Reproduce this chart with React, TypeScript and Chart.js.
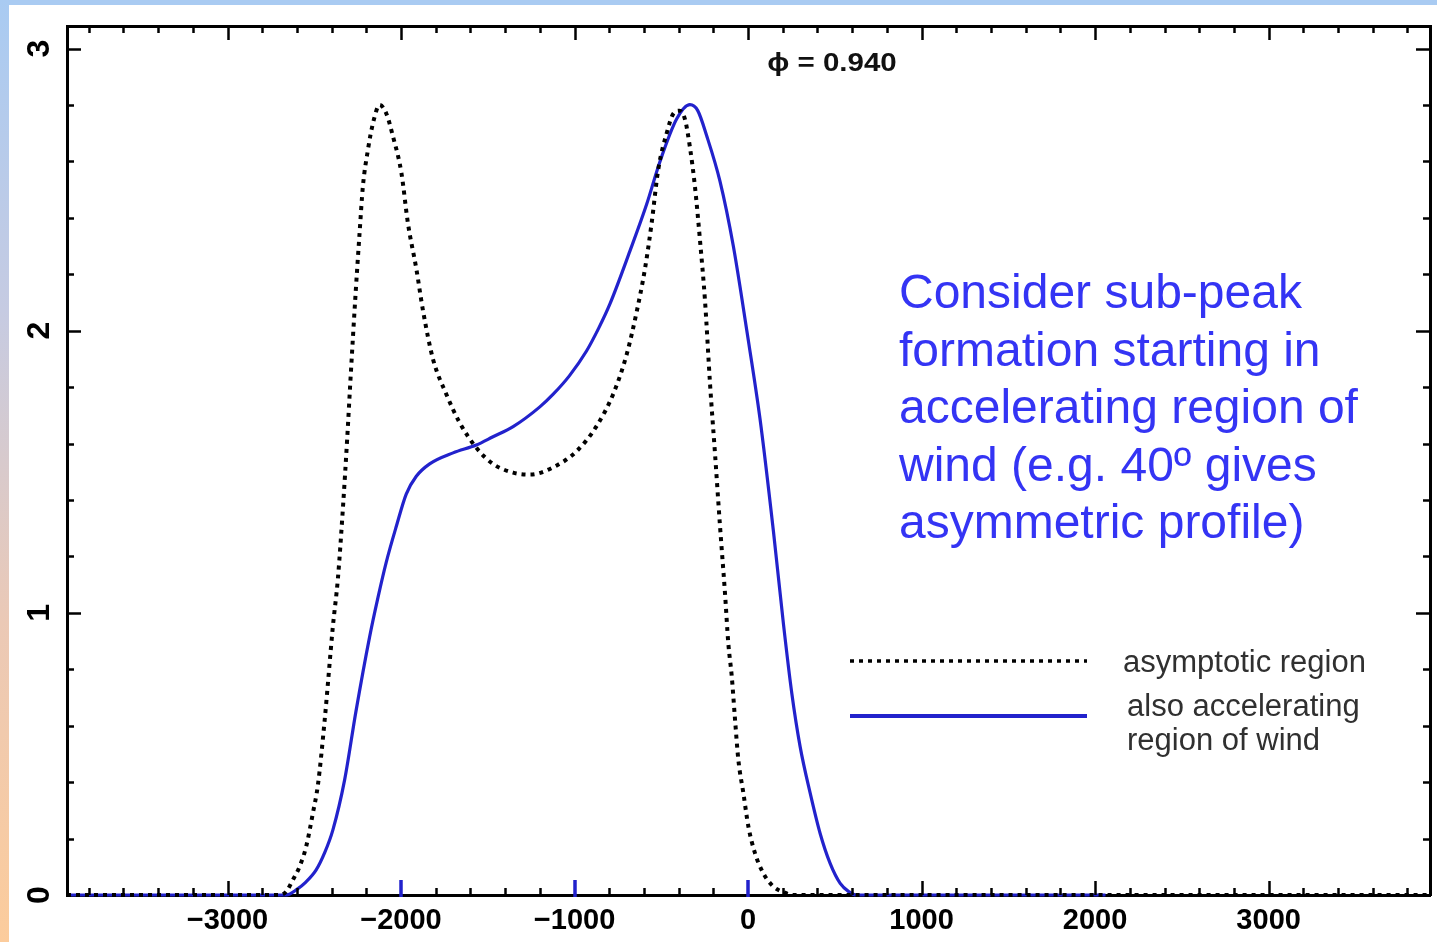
import React, { useEffect, useRef } from 'react';
import { Chart, registerables } from 'chart.js';

Chart.register(...registerables);

// ---------------- data ----------------
const asymptoticV = [
  -3925, -2700, -2662, -2624, -2585, -2547, -2508, -2479, -2440, -2393, -2364, -2335, -2310, -2291,
  -2262, -2239, -2220, -2191, -2160, -2123, -2085, -2047, -1998, -1960, -1912, -1873, -1816, -1739,
  -1662, -1566, -1470, -1354, -1258, -1123, -988, -873, -777, -700, -642, -594, -556, -518, -469,
  -430, -395, -364, -335, -306, -277, -248, -219, -190, -162, -133, -114, -94, -75, -56, -27, 2, 40,
  88, 146, 204, 260, 3930,
];
const asymptoticFlux = [
  0, 0, 0.012, 0.053, 0.1, 0.171, 0.29, 0.39, 0.62, 0.95, 1.12, 1.37, 1.62, 1.83,
  2.13, 2.345, 2.51, 2.64, 2.74, 2.8, 2.77, 2.69, 2.56, 2.38, 2.22, 2.07, 1.9, 1.775,
  1.674, 1.585, 1.528, 1.497, 1.49, 1.516, 1.573, 1.662, 1.776, 1.915, 2.067, 2.22, 2.38, 2.57, 2.7,
  2.77, 2.78, 2.75, 2.65, 2.51, 2.32, 2.105, 1.81, 1.56, 1.31, 1.07, 0.893, 0.775, 0.621, 0.479, 0.361, 0.242, 0.148,
  0.077, 0.03, 0.01, 0, 0,
];
const acceleratingV = [
  -3925, -2680, -2643, -2604, -2550, -2489, -2440, -2393, -2325, -2260, -2181, -2133, -2085, -2027,
  -1970, -1912, -1835, -1700, -1566, -1470, -1354, -1200, -1123, -1030, -931, -860, -796, -681, -585, -508,
  -411, -335, -290, -238, -162, -85, -8, 69, 146, 204, 252, 300, 358, 415, 473, 531, 580, 625, 2060,
];
const acceleratingFlux = [
  0, 0, 0.003, 0.018, 0.045, 0.089, 0.15, 0.23, 0.408, 0.65, 0.915, 1.054, 1.18, 1.307,
  1.421, 1.484, 1.528, 1.567, 1.595, 1.624, 1.66, 1.73, 1.775, 1.84, 1.928, 2.01, 2.095, 2.282, 2.447, 2.599,
  2.751, 2.801, 2.78, 2.69, 2.53, 2.3, 2.003, 1.687, 1.29, 0.96, 0.715, 0.526, 0.361, 0.219, 0.112, 0.041, 0.012, 0, 0,
];
const seriesNames = ['asymptotic region', 'also accelerating region of wind'];
const legendLines = [['asymptotic region'], ['also accelerating', 'region of wind']];
const highlightedXTicks = [-2000, -1000, 0];
const phaseText = 'ϕ = 0.940';
const noteLines = [
  'Consider sub-peak',
  'formation starting in',
  'accelerating region of',
  'wind (e.g. 40º gives',
  'asymmetric profile)',
];
const xMin = -3925;
const xMax = 3930;
const yMin = 0;
const yMax = 3.08;
const xMajorStep = 1000;
const xMinorStep = 200;
const yMajorStep = 1;
const yMinorStep = 0.2;

// ---------------- styles ----------------
const FONT = '"Liberation Sans", Arial, Helvetica, sans-serif';
const BLUE = '#2222cc';
const NOTE_BLUE = '#3434f4';

const fixBox = (w: number | null, h: number | null) => (scale: any) => {
  if (w !== null) scale.width = w;
  if (h !== null) scale.height = h;
  scale.paddingTop = 0;
  scale.paddingBottom = 0;
  scale.paddingLeft = 0;
  scale.paddingRight = 0;
};

const overlayPlugin = {
  id: 'overlay',
  afterDatasetsDraw(chart: any) {
    const { ctx, chartArea: a, scales } = chart;
    const xs = scales.x;
    const ys = scales.y;
    ctx.save();
    ctx.strokeStyle = '#000';
    ctx.lineWidth = 2.5;
    ctx.lineCap = 'butt';
    const nx0 = Math.ceil(xMin / xMinorStep);
    const nx1 = Math.floor(xMax / xMinorStep);
    for (let i = nx0; i <= nx1; i++) {
      const v = i * xMinorStep;
      const px = Math.round(xs.getPixelForValue(v)) + 0.5;
      const major = v % xMajorStep === 0;
      const len = major ? 14 : 7;
      ctx.beginPath();
      ctx.moveTo(px, a.top);
      ctx.lineTo(px, a.top + len);
      ctx.stroke();
      if (!highlightedXTicks.includes(v)) {
        ctx.beginPath();
        ctx.moveTo(px, a.bottom);
        ctx.lineTo(px, a.bottom - len);
        ctx.stroke();
      }
    }
    const ny1 = Math.floor(yMax / yMinorStep + 1e-9);
    for (let i = 1; i <= ny1; i++) {
      const v = i * yMinorStep;
      const py = Math.round(ys.getPixelForValue(v)) + 0.5;
      const major = Math.abs(v / yMajorStep - Math.round(v / yMajorStep)) < 1e-6;
      const len = major ? 14 : 7;
      ctx.beginPath();
      ctx.moveTo(a.left, py);
      ctx.lineTo(a.left + len, py);
      ctx.stroke();
      ctx.beginPath();
      ctx.moveTo(a.right, py);
      ctx.lineTo(a.right - len, py);
      ctx.stroke();
    }
    ctx.strokeStyle = BLUE;
    ctx.lineWidth = 3.5;
    highlightedXTicks.forEach((v) => {
      const px = Math.round(xs.getPixelForValue(v));
      ctx.beginPath();
      ctx.moveTo(px, a.bottom + 2);
      ctx.lineTo(px, a.bottom - 15);
      ctx.stroke();
    });
    ctx.restore();
  },
  afterDraw(chart: any) {
    const { ctx, data } = chart;
    ctx.save();
    // phase label
    ctx.fillStyle = '#111';
    ctx.font = `bold 25px ${FONT}`;
    ctx.textBaseline = 'alphabetic';
    ctx.textAlign = 'center';
    ctx.translate(832, 71);
    ctx.scale(1.18, 1);
    ctx.fillText(phaseText, 0, 0);
    ctx.restore();

    ctx.save();
    // note paragraph
    ctx.fillStyle = NOTE_BLUE;
    ctx.font = `48px ${FONT}`;
    ctx.textAlign = 'left';
    ctx.textBaseline = 'alphabetic';
    noteLines.forEach((line, i) => ctx.fillText(line, 899, 308 + i * 57.5));

    // legend
    const sampleY = [661, 716];
    const textX = [1123, 1127];
    const textBase = [672, 716];
    data.datasets.forEach((ds: any, i: number) => {
      ctx.save();
      ctx.strokeStyle = ds.borderColor;
      ctx.lineWidth = i === 0 ? 3.5 : 4;
      ctx.setLineDash(ds.borderDash || []);
      ctx.beginPath();
      ctx.moveTo(850, sampleY[i]);
      ctx.lineTo(1087, sampleY[i]);
      ctx.stroke();
      ctx.restore();
      ctx.fillStyle = '#303030';
      ctx.font = `31px ${FONT}`;
      legendLines[i].forEach((t, j) => ctx.fillText(t, textX[i], textBase[i] + j * 34));
    });
    ctx.restore();
  },
};

export default function App() {
  const canvasRef = useRef<HTMLCanvasElement | null>(null);

  useEffect(() => {
    document.body.style.margin = '0';
    const canvas = canvasRef.current;
    if (!canvas) return;
    const chart = new Chart(canvas, {
      type: 'line',
      data: {
        datasets: [
          {
            label: seriesNames[0],
            data: asymptoticV.map((x, i) => ({ x, y: asymptoticFlux[i] })),
            borderColor: '#000000',
            borderWidth: 4,
            borderDash: [4, 5],
            borderCapStyle: 'butt',
            pointRadius: 0,
            cubicInterpolationMode: 'monotone',
            clip: false,
            xAxisID: 'x',
            yAxisID: 'y',
          },
          {
            label: seriesNames[1],
            data: acceleratingV.map((x, i) => ({ x, y: acceleratingFlux[i] })),
            borderColor: BLUE,
            borderWidth: 3.2,
            pointRadius: 0,
            cubicInterpolationMode: 'monotone',
            clip: false,
            xAxisID: 'x',
            yAxisID: 'y',
          },
        ],
      },
      options: {
        responsive: false,
        animation: false,
        events: [],
        layout: { padding: { left: 0, top: 26, right: 7, bottom: 4 } },
        plugins: { legend: { display: false }, tooltip: { enabled: false } },
        scales: {
          x: {
            type: 'linear',
            position: 'bottom',
            min: xMin,
            max: xMax,
            grid: { drawOnChartArea: false, drawTicks: false },
            border: { display: true, color: '#000', width: 3 },
            afterBuildTicks: (scale: any) => {
              scale.ticks = scale.ticks.filter((t: any) => t.value % xMajorStep === 0);
            },
            afterFit: fixBox(null, 43),
            ticks: {
              stepSize: xMinorStep,
              includeBounds: false,
              padding: 9,
              color: '#000',
              font: { family: FONT, size: 29, weight: 'bold' },
              maxRotation: 0,
              minRotation: 0,
              autoSkip: false,
              callback: (v: any) => (Number(v) < 0 ? '\u2212' + Math.abs(Number(v)) : String(v)),
            },
          },
          xTop: {
            type: 'linear',
            position: 'top',
            min: xMin,
            max: xMax,
            grid: { drawOnChartArea: false, drawTicks: false },
            border: { display: true, color: '#000', width: 3 },
            ticks: { display: false },
            afterFit: fixBox(null, 0),
          },
          y: {
            type: 'linear',
            position: 'left',
            min: yMin,
            max: yMax,
            grid: { drawOnChartArea: false, drawTicks: false },
            border: { display: true, color: '#000', width: 3 },
            afterFit: fixBox(67, null),
            ticks: {
              stepSize: yMajorStep,
              includeBounds: false,
              minRotation: 90,
              maxRotation: 90,
              crossAlign: 'center',
              padding: 18,
              color: '#000',
              font: { family: FONT, size: 32, weight: 'bold' },
            },
          },
          yRight: {
            type: 'linear',
            position: 'right',
            min: yMin,
            max: yMax,
            grid: { drawOnChartArea: false, drawTicks: false },
            border: { display: true, color: '#000', width: 3 },
            ticks: { display: false },
            afterFit: fixBox(0, null),
          },
        },
      },
      plugins: [overlayPlugin],
    } as any);
    return () => chart.destroy();
  }, []);

  return (
    <div
      style={{
        position: 'fixed',
        left: 0,
        top: 0,
        width: 1437,
        height: 942,
        background: '#ffffff',
        overflow: 'hidden',
      }}
    >
      <canvas
        ref={canvasRef}
        width={1437}
        height={942}
        style={{ position: 'absolute', left: 0, top: 0, width: 1437, height: 942 }}
      />
      <div
        style={{
          position: 'absolute',
          left: 0,
          top: 0,
          width: 1437,
          height: 5,
          background: '#a9cbf2',
        }}
      />
      <div
        style={{
          position: 'absolute',
          left: 0,
          top: 0,
          width: 9,
          height: 942,
          background: 'linear-gradient(#a9cbf2 0%, #c6cbe2 33%, #ebc9b6 66%, #fccc9c 100%)',
        }}
      />
    </div>
  );
}
